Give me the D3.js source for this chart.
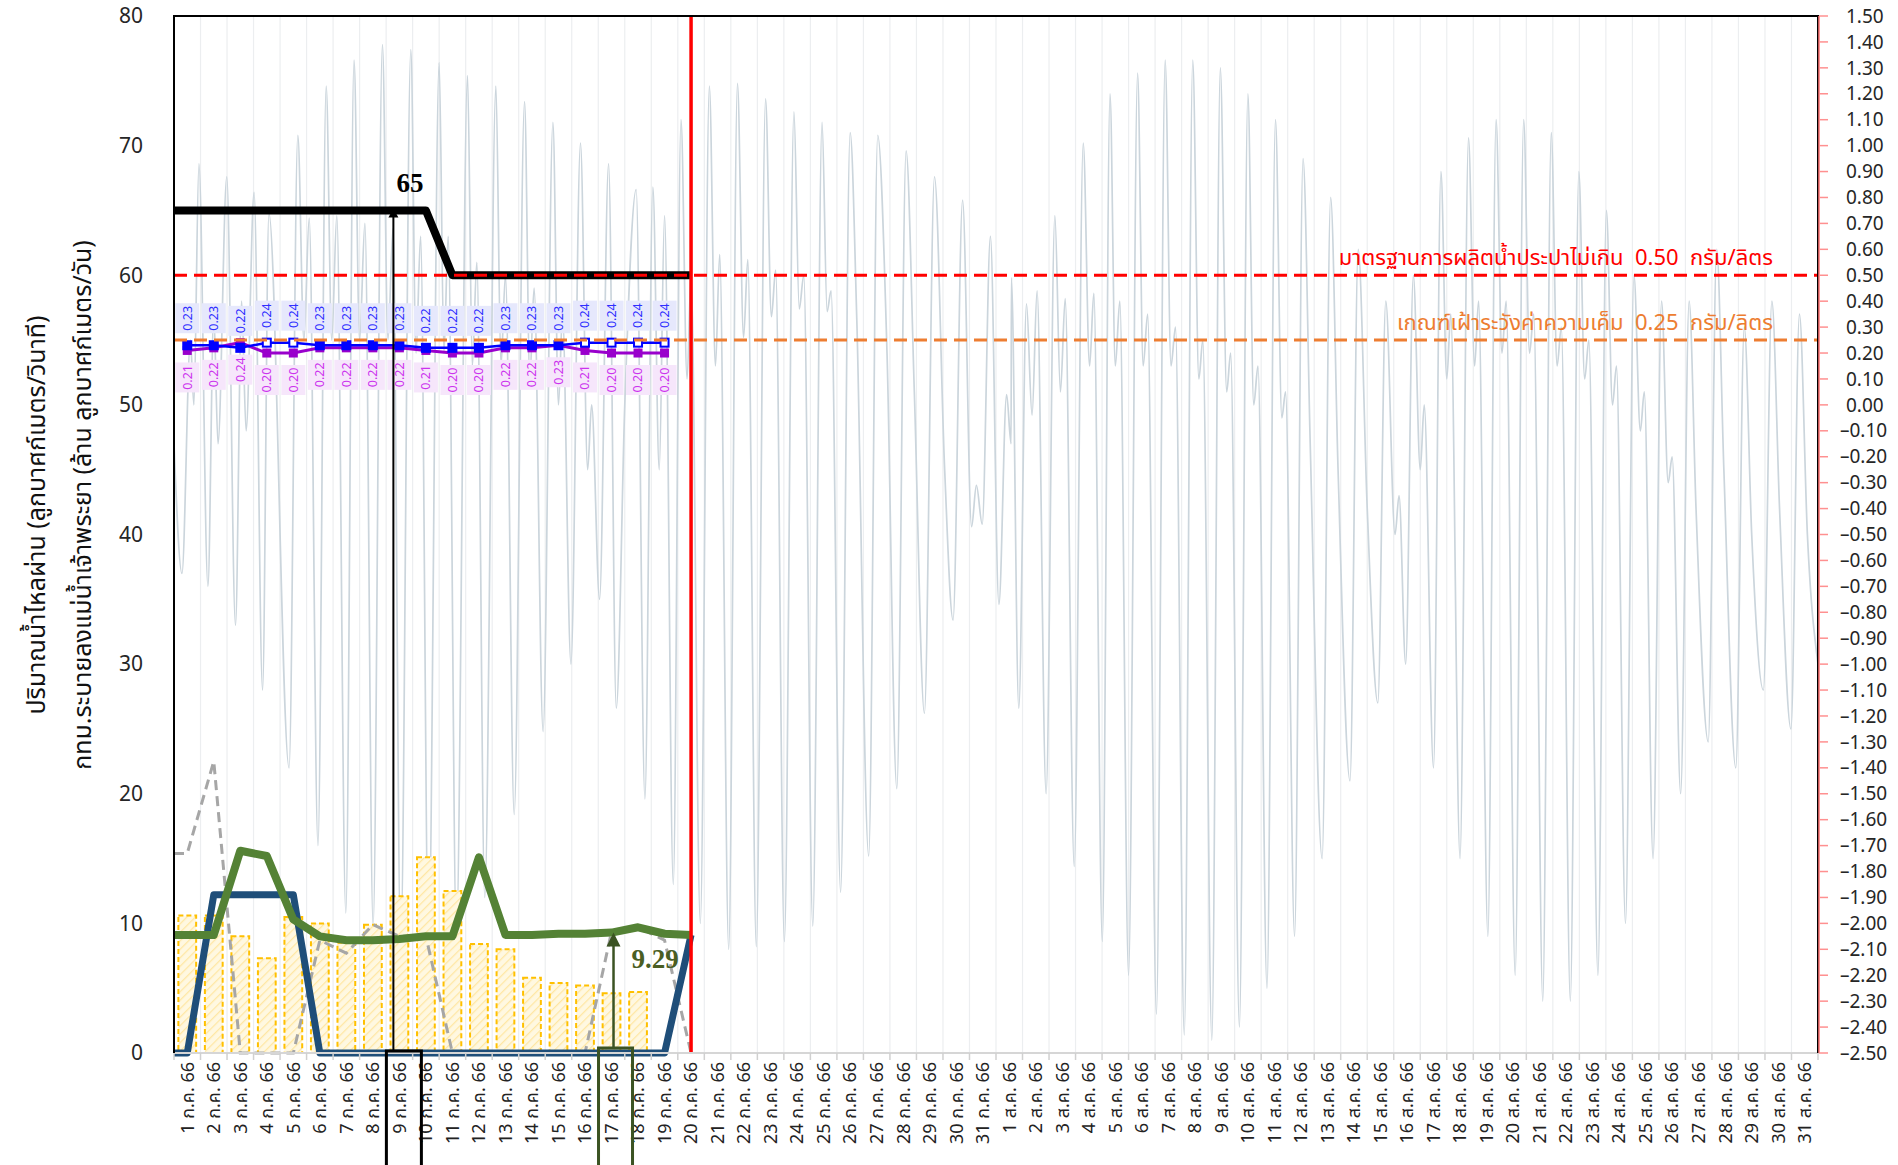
<!DOCTYPE html>
<html>
<head>
<meta charset="utf-8">
<script src="https://cdn.jsdelivr.net/npm/d3@7"></script>
<style>
  html, body { margin: 0; padding: 0; background: #fff; }
  svg { display: block; }
  text { font-family: Tahoma, "Leelawadee UI", "Noto Sans Thai", "DejaVu Sans", sans-serif; }
  text.serif { font-family: "Liberation Serif", "Times New Roman", serif; font-weight: bold; }
  text.pre { white-space: pre; }
</style>
</head>
<body>
<svg id="chart" width="1898" height="1165"></svg>
<script>
// ---- data ----
const monthNames = ["ก.ค.", "ส.ค."];
const monthDays = [31, 31];
const categories = monthNames.flatMap((m, i) => d3.range(1, monthDays[i] + 1).map(d => `${d} ${m} 66`));

// left axis series, days 1..20 of July
const flowLine = [65, 65, 65, 65, 65, 65, 65, 65, 65, 65, 60, 60, 60, 60, 60, 60, 60, 60, 60, 60];
const greenLine = [9.1, 9.1, 15.6, 15.2, 10.3, 9.0, 8.7, 8.7, 8.8, 9.0, 9.0, 15.1, 9.1, 9.1, 9.2, 9.2, 9.29, 9.7, 9.2, 9.1];
const navyLine = [0, 12.2, 12.2, 12.2, 12.2, 0, 0, 0, 0, 0, 0, 0, 0, 0, 0, 0, 0, 0, 0, 9.1];
const greyDashLine = [15.4, 22.5, 0, 0, 0, 8.7, 7.7, 9.9, 9.0, 9.0, 0, 0, 0, 0, 0, 0, 9.35, 9.7, 8.7, 0];
const yellowBars = [10.6, 10.6, 9.0, 7.3, 10.5, 10.0, 8.5, 9.9, 12.1, 15.1, 12.5, 8.4, 8.0, 5.8, 5.4, 5.2, 4.6, 4.7];

// salinity (g/l), right axis, days 1..19
const salinityBlue = [0.23, 0.23, 0.22, 0.24, 0.24, 0.23, 0.23, 0.23, 0.23, 0.22, 0.22, 0.22, 0.23, 0.23, 0.23, 0.24, 0.24, 0.24, 0.24];
const salinityPurple = [0.21, 0.22, 0.24, 0.20, 0.20, 0.22, 0.22, 0.22, 0.22, 0.21, 0.20, 0.20, 0.22, 0.22, 0.23, 0.21, 0.20, 0.20, 0.20];

// tide level (m), right axis; time in days from 1 Jul 00:00
const tideDay = [
  0.00, 0.30, 0.62, 0.75, 0.94, 1.28, 1.50, 1.66, 1.99, 2.32, 2.55, 2.72, 3.02, 3.34, 3.58, 4.34, 4.67, 4.90, 5.10, 5.43,
  5.74, 5.95, 6.14, 6.48, 6.79, 7.00, 7.20, 7.51, 7.86, 8.07, 8.26, 8.55, 8.93, 9.13, 9.30, 9.60, 10.00, 10.18, 10.34, 10.65,
  11.07, 11.25, 11.42, 11.72, 12.14, 12.33, 12.50, 12.83, 13.22, 13.42, 13.58, 13.92, 14.29, 14.50, 14.65, 14.97, 15.33, 15.60, 15.75, 16.05,
  16.39, 16.68, 17.00, 17.43, 17.76, 18.06, 18.30, 18.50, 18.83, 19.12, 19.35, 19.50, 19.85,
  20.19, 20.42, 20.58, 20.92, 21.25, 21.48, 21.64, 21.96, 22.31, 22.53, 22.69, 23.02, 23.38, 23.58, 23.75, 24.09, 24.44, 24.63, 24.78, 25.14,
  25.50, 25.75, 26.20, 26.54, 26.89, 27.26, 27.61, 27.92, 28.30, 28.68, 29.06, 29.38, 29.74, 30.08, 30.26, 30.48, 30.79, 31.11, 31.40, 31.57,
  31.58, 31.86, 32.15, 32.36, 32.55, 32.89, 33.22, 33.43, 33.61, 33.95, 34.29, 34.53, 34.69, 35.01,
  35.30, 35.50, 35.67, 36.00, 36.34, 36.55, 36.72, 37.05, 37.38, 37.60, 37.77, 38.10, 38.42, 38.65, 38.80, 39.14, 39.46, 39.70, 39.85, 40.18,
  40.50, 40.72, 40.88, 41.22, 41.54, 41.78, 41.92, 42.26, 42.58, 42.85, 43.30, 43.62, 43.90, 44.35, 44.66, 45.00, 45.40, 45.70, 46.05, 46.20,
  46.45, 46.74, 47.00, 47.15, 47.50, 47.78, 48.00, 48.15, 48.50, 48.82, 49.05, 49.20, 49.55, 49.86, 50.08, 50.24, 50.58, 50.90, 51.12, 51.28,
  51.62, 51.94, 52.16, 52.32, 52.66, 52.98, 53.20, 53.36, 53.70, 54.02, 54.25, 54.40, 54.74, 55.06, 55.30, 55.45, 55.78, 56.10, 56.35, 56.50,
  56.82, 57.14, 57.40, 57.86, 58.18, 58.45, 58.90, 59.22, 59.50, 59.94, 60.26, 60.55, 60.98, 61.30, 61.60, 62.00
];
const tideLevel = [
  -0.15, -0.65, 0.25, 0.00, 0.93, -0.70, 0.35, -0.15, 0.88, -0.85, 0.40, -0.10, 0.82, -1.10, 0.74, -1.40, 1.04, 0.25, 0.72, -1.70,
  1.23, 0.25, 0.73, -1.96, 1.33, 0.25, 0.70, -2.01, 1.39, 0.25, 0.68, -2.10, 1.37, 0.20, 0.65, -2.10, 1.32, 0.20, 0.65, -2.05,
  1.27, 0.15, 0.55, -1.90, 1.23, 0.15, 0.50, -1.58, 1.17, 0.10, 0.45, -1.26, 1.09, 0.00, 0.35, -1.00, 1.01, -0.25, 0.00, -0.75,
  0.93, -1.17, 0.00, 0.83, -1.52, 0.84, -0.25, 0.73, -1.85, 1.10, 0.10, 0.50, -2.00,
  1.23, 0.15, 0.58, -2.10, 1.24, 0.26, 0.56, -2.09, 1.18, 0.34, 0.52, -2.07, 1.13, 0.37, 0.50, -2.01, 1.09, 0.36, 0.44, -1.88,
  1.05, 0.33, -1.74, 1.04, 0.20, -1.48, 0.98, 0.05, -1.19, 0.88, -0.24, -0.83, 0.79, -0.47, -0.31, -0.46, 0.65, -0.77, 0.04, -0.15,
  0.49, -1.17, 0.39, -0.04, 0.44, -1.50, 0.73, 0.05, 0.41, -1.78, 1.01, 0.15, 0.43, -2.07,
  1.20, 0.15, 0.40, -2.20, 1.28, 0.15, 0.35, -2.35, 1.33, 0.15, 0.30, -2.43, 1.33, 0.10, 0.25, -2.45, 1.30, 0.05, 0.20, -2.40,
  1.20, 0.00, 0.15, -2.25, 1.10, -0.05, 0.05, -2.05, 0.95, -0.15, -1.75, 0.80, -0.25, -1.45, 0.60, -0.40, -1.15, 0.40, -0.50, -0.35,
  -1.00, 0.50, -0.25, 0.00, -1.40, 0.90, 0.10, 0.35, -1.75, 1.03, 0.15, 0.40, -2.05, 1.10, 0.20, 0.40, -2.20, 1.10, 0.20, 0.35,
  -2.30, 1.05, 0.15, 0.30, -2.30, 0.90, 0.10, 0.25, -2.20, 0.75, 0.00, 0.15, -2.00, 0.50, -0.10, 0.05, -1.75, 0.40, -0.30, -0.20,
  -1.50, 0.40, -0.40, -1.30, 0.60, -0.25, -1.40, 0.30, -0.50, -1.10, 0.40, -0.40, -1.25, 0.35, -0.50, -1.00
];

const leftTicks = d3.range(0, 81, 10);
const rightTicks = d3.range(-25, 16).map(v => v / 10);
const standardLevel = 0.50;
const watchLevel = 0.25;
const markedDays = { flow: 9, green: 17, nowDay: 20 };

// ---- layout ----
const W = 1898, H = 1165;
const plot = { left: 174, right: 1818, top: 16, bottom: 1053 };
const svg = d3.select("#chart");

svg.append("rect").attr("width", W).attr("height", H).attr("fill", "#fff");

const x = d3.scaleBand().domain(categories).range([plot.left, plot.right]).paddingInner(0.33).paddingOuter(0.165);
const step = x.step();
const cx = i => x(categories[i]) + x.bandwidth() / 2;
const xt = d3.scaleLinear().domain([0, categories.length]).range([plot.left, plot.right]);
const yL = d3.scaleLinear().domain([0, 80]).range([plot.bottom, plot.top]);
const yR = d3.scaleLinear().domain([-2.5, 1.5]).range([plot.bottom, plot.top]);

const defs = svg.append("defs");
const pat = defs.append("pattern").attr("id", "hatch").attr("patternUnits", "userSpaceOnUse")
  .attr("width", 6).attr("height", 6).attr("patternTransform", "rotate(45)");
pat.append("rect").attr("width", 6).attr("height", 6).attr("fill", "#fff8e1");
pat.append("line").attr("x1", 0).attr("y1", 0).attr("x2", 0).attr("y2", 6).attr("stroke", "#ffe7a3").attr("stroke-width", 2.5);
defs.append("clipPath").attr("id", "plotclip").append("rect")
  .attr("x", plot.left).attr("y", plot.top).attr("width", plot.right - plot.left).attr("height", plot.bottom - plot.top);

// vertical gridlines at category boundaries
svg.append("g").selectAll("line").data(d3.range(1, categories.length)).join("line")
  .attr("x1", i => plot.left + i * step).attr("x2", i => plot.left + i * step)
  .attr("y1", plot.top).attr("y2", plot.bottom)
  .attr("stroke", "#eceef0").attr("stroke-width", 1.2);

// tide line
const tidePts = tideDay.map((t, i) => [t, tideLevel[i]]);
svg.append("path").datum(tidePts)
  .attr("clip-path", "url(#plotclip)")
  .attr("fill", "none").attr("stroke", "#cbd5dc").attr("stroke-width", 1.7)
  .attr("d", d3.line().x(d => xt(d[0])).y(d => yR(d[1])).curve(d3.curveMonotoneX));

// bars
svg.append("g").selectAll("rect").data(yellowBars).join("rect")
  .attr("x", (d, i) => x(categories[i])).attr("width", x.bandwidth())
  .attr("y", d => yL(d)).attr("height", d => yL(0) - yL(d))
  .attr("fill", "url(#hatch)").attr("stroke", "#ffc000").attr("stroke-width", 2).attr("stroke-dasharray", "5,3");

// left-axis lines (start at plot edge like the original)
function leftLine(values) {
  const pts = [[plot.left, values[0]]].concat(values.map((v, i) => [cx(i), v]));
  return d3.line().x(d => d[0]).y(d => yL(d[1]))(pts);
}
svg.append("path").attr("d", leftLine(greyDashLine)).attr("fill", "none")
  .attr("stroke", "#a6a6a6").attr("stroke-width", 3).attr("stroke-dasharray", "10,6");
svg.append("path").attr("d", leftLine(navyLine)).attr("fill", "none")
  .attr("stroke", "#1f4e79").attr("stroke-width", 7).attr("stroke-linejoin", "round");
svg.append("path").attr("d", leftLine(greenLine)).attr("fill", "none")
  .attr("stroke", "#548235").attr("stroke-width", 8).attr("stroke-linejoin", "round");
svg.append("path").attr("d", leftLine(flowLine)).attr("fill", "none")
  .attr("stroke", "#000").attr("stroke-width", 8).attr("stroke-linejoin", "round");

// salinity label boxes
const lblBlue = svg.append("g");
salinityBlue.forEach((v, i) => {
  const yc = yR(v) - 27;
  lblBlue.append("rect").attr("x", cx(i) - 12).attr("y", yc - 15).attr("width", 24).attr("height", 30).attr("fill", "#e6e8fc");
  lblBlue.append("text").attr("transform", `translate(${cx(i)},${yc}) rotate(-90)`)
    .attr("text-anchor", "middle").attr("dy", "0.35em").attr("font-size", 12.5).attr("fill", "#2f2fff")
    .text(d3.format(".2f")(v));
});
const lblPurple = svg.append("g");
salinityPurple.forEach((v, i) => {
  const yc = yR(v) + 27;
  lblPurple.append("rect").attr("x", cx(i) - 12).attr("y", yc - 15).attr("width", 24).attr("height", 30).attr("fill", "#f6e6fb");
  lblPurple.append("text").attr("transform", `translate(${cx(i)},${yc}) rotate(-90)`)
    .attr("text-anchor", "middle").attr("dy", "0.35em").attr("font-size", 12.5).attr("fill", "#cc33ee")
    .text(d3.format(".2f")(v));
});

// salinity lines
const salLine = d3.line().x((d, i) => cx(i)).y(d => yR(d));
svg.append("path").attr("d", salLine(salinityPurple)).attr("fill", "none").attr("stroke", "#9900cc").attr("stroke-width", 3);
svg.append("g").selectAll("rect").data(salinityPurple).join("rect")
  .attr("x", (d, i) => cx(i) - 4.5).attr("y", d => yR(d) - 4.5).attr("width", 9).attr("height", 9).attr("fill", "#9900cc");
svg.append("path").attr("d", salLine(salinityBlue)).attr("fill", "none").attr("stroke", "#0000ff").attr("stroke-width", 2.5);
svg.append("g").selectAll("rect").data(salinityBlue).join("rect")
  .attr("x", (d, i) => cx(i) - 4).attr("y", d => yR(d) - 4).attr("width", 8).attr("height", 8)
  .attr("fill", d => d >= 0.24 ? "#fff" : "#0000ff").attr("stroke", "#0000ff").attr("stroke-width", 2);

// threshold lines
svg.append("line").attr("x1", plot.left).attr("x2", plot.right).attr("y1", yR(standardLevel)).attr("y2", yR(standardLevel))
  .attr("stroke", "#ff0000").attr("stroke-width", 3).attr("stroke-dasharray", "13,7");
svg.append("line").attr("x1", plot.left).attr("x2", plot.right).attr("y1", yR(watchLevel)).attr("y2", yR(watchLevel))
  .attr("stroke", "#ed7d31").attr("stroke-width", 3).attr("stroke-dasharray", "13,7");
svg.append("text").attr("class", "pre").attr("x", 1773).attr("y", yR(standardLevel) - 10).attr("text-anchor", "end")
  .attr("font-size", 22).attr("fill", "#ff0000").text("มาตรฐานการผลิตน้ำประปาไม่เกิน  0.50  กรัม/ลิตร");
svg.append("text").attr("class", "pre").attr("x", 1773).attr("y", yR(watchLevel) - 10).attr("text-anchor", "end")
  .attr("font-size", 22).attr("fill", "#ed7d31").text("เกณฑ์เฝ้าระวังค่าความเค็ม  0.25  กรัม/ลิตร");

// current day marker
svg.append("line").attr("x1", cx(markedDays.nowDay - 1)).attr("x2", cx(markedDays.nowDay - 1))
  .attr("y1", plot.top).attr("y2", plot.bottom).attr("stroke", "#ff0000").attr("stroke-width", 3.5);

// bottom axis
svg.append("line").attr("x1", plot.left).attr("x2", plot.right).attr("y1", plot.bottom).attr("y2", plot.bottom)
  .attr("stroke", "#d6d6d6").attr("stroke-width", 2);
svg.append("g").selectAll("line").data(d3.range(0, categories.length + 1)).join("line")
  .attr("x1", i => plot.left + i * step).attr("x2", i => plot.left + i * step)
  .attr("y1", plot.bottom).attr("y2", plot.bottom + 7).attr("stroke", "#d0d0d0").attr("stroke-width", 1.5);
svg.append("g").selectAll("text").data(categories).join("text")
  .attr("transform", (d, i) => `translate(${cx(i)},${plot.bottom + 9}) rotate(-90)`)
  .attr("text-anchor", "end").attr("dy", "0.35em").attr("font-size", 18).attr("fill", "#222")
  .text(d => d);

// plot border (top, left, right)
svg.append("path").attr("d", `M${plot.left},${plot.bottom}V${plot.top}H${plot.right}V${plot.bottom}`)
  .attr("fill", "none").attr("stroke", "#000").attr("stroke-width", 2);

// left axis labels
svg.append("g").selectAll("text").data(leftTicks).join("text")
  .attr("x", 143).attr("y", d => yL(d)).attr("dy", "0.35em").attr("text-anchor", "end")
  .attr("font-size", 21).attr("fill", "#262626").text(d => d);

// right axis
const fmtR = v => (v < -0.001 ? "–" : "") + d3.format(".2f")(Math.abs(v));
svg.append("line").attr("x1", plot.right + 1).attr("x2", plot.right + 1).attr("y1", plot.top).attr("y2", plot.bottom)
  .attr("stroke", "#ff7070").attr("stroke-width", 1.5);
svg.append("g").selectAll("line").data(rightTicks).join("line")
  .attr("x1", plot.right + 1).attr("x2", plot.right + 10).attr("y1", d => yR(d)).attr("y2", d => yR(d))
  .attr("stroke", "#ff9090").attr("stroke-width", 1.5);
svg.append("g").selectAll("text").data(rightTicks).join("text")
  .attr("x", d => d < -0.001 ? 1840 : 1846).attr("y", d => yR(d)).attr("dy", "0.35em")
  .attr("font-size", 19).attr("fill", "#262626").text(fmtR);

// axis titles
svg.append("text").attr("transform", `translate(36,515) rotate(-90)`).attr("text-anchor", "middle")
  .attr("dy", "0.35em").attr("font-size", 25).attr("fill", "#111")
  .text("ปริมาณน้ำไหลผ่าน (ลูกบาศก์เมตร/วินาที)");
svg.append("text").attr("transform", `translate(82,505) rotate(-90)`).attr("text-anchor", "middle")
  .attr("dy", "0.35em").attr("font-size", 25).attr("fill", "#111")
  .text("กทม.ระบายลงแม่น้ำเจ้าพระยา (ล้าน ลูกบาศก์เมตร/วัน)");

// annotations
const fi = markedDays.flow - 1;
const fx = cx(fi) - 6;
svg.append("rect").attr("x", cx(fi) - 13).attr("y", plot.bottom - 2).attr("width", 35).attr("height", 130)
  .attr("fill", "none").attr("stroke", "#000").attr("stroke-width", 3);
svg.append("line").attr("x1", fx).attr("x2", fx).attr("y1", plot.bottom - 2).attr("y2", yL(flowLine[fi]) + 6)
  .attr("stroke", "#000").attr("stroke-width", 2);
svg.append("path").attr("d", `M${fx},${yL(flowLine[fi]) - 2}l-5,9h10z`).attr("fill", "#000");
svg.append("text").attr("class", "serif").attr("x", cx(fi) - 3).attr("y", yL(flowLine[fi]) - 18)
  .attr("font-size", 27).attr("fill", "#000").text(d3.format("d")(flowLine[fi]));

const gi = markedDays.green - 1;
const gx = cx(gi) + 2;
svg.append("rect").attr("x", cx(gi) - 13).attr("y", plot.bottom - 5).attr("width", 34).attr("height", 130)
  .attr("fill", "none").attr("stroke", "#3b5323").attr("stroke-width", 3);
svg.append("line").attr("x1", gx).attr("x2", gx).attr("y1", plot.bottom - 5).attr("y2", yL(greenLine[gi]) + 12)
  .attr("stroke", "#3b5323").attr("stroke-width", 2.5);
svg.append("path").attr("d", `M${gx},${yL(greenLine[gi])}l-7,14h14z`).attr("fill", "#3b5323");
svg.append("text").attr("class", "serif").attr("x", gx + 18).attr("y", yL(greenLine[gi]) + 35)
  .attr("font-size", 27).attr("fill", "#4a5e23").text(greenLine[gi]);
</script>
</body>
</html>
